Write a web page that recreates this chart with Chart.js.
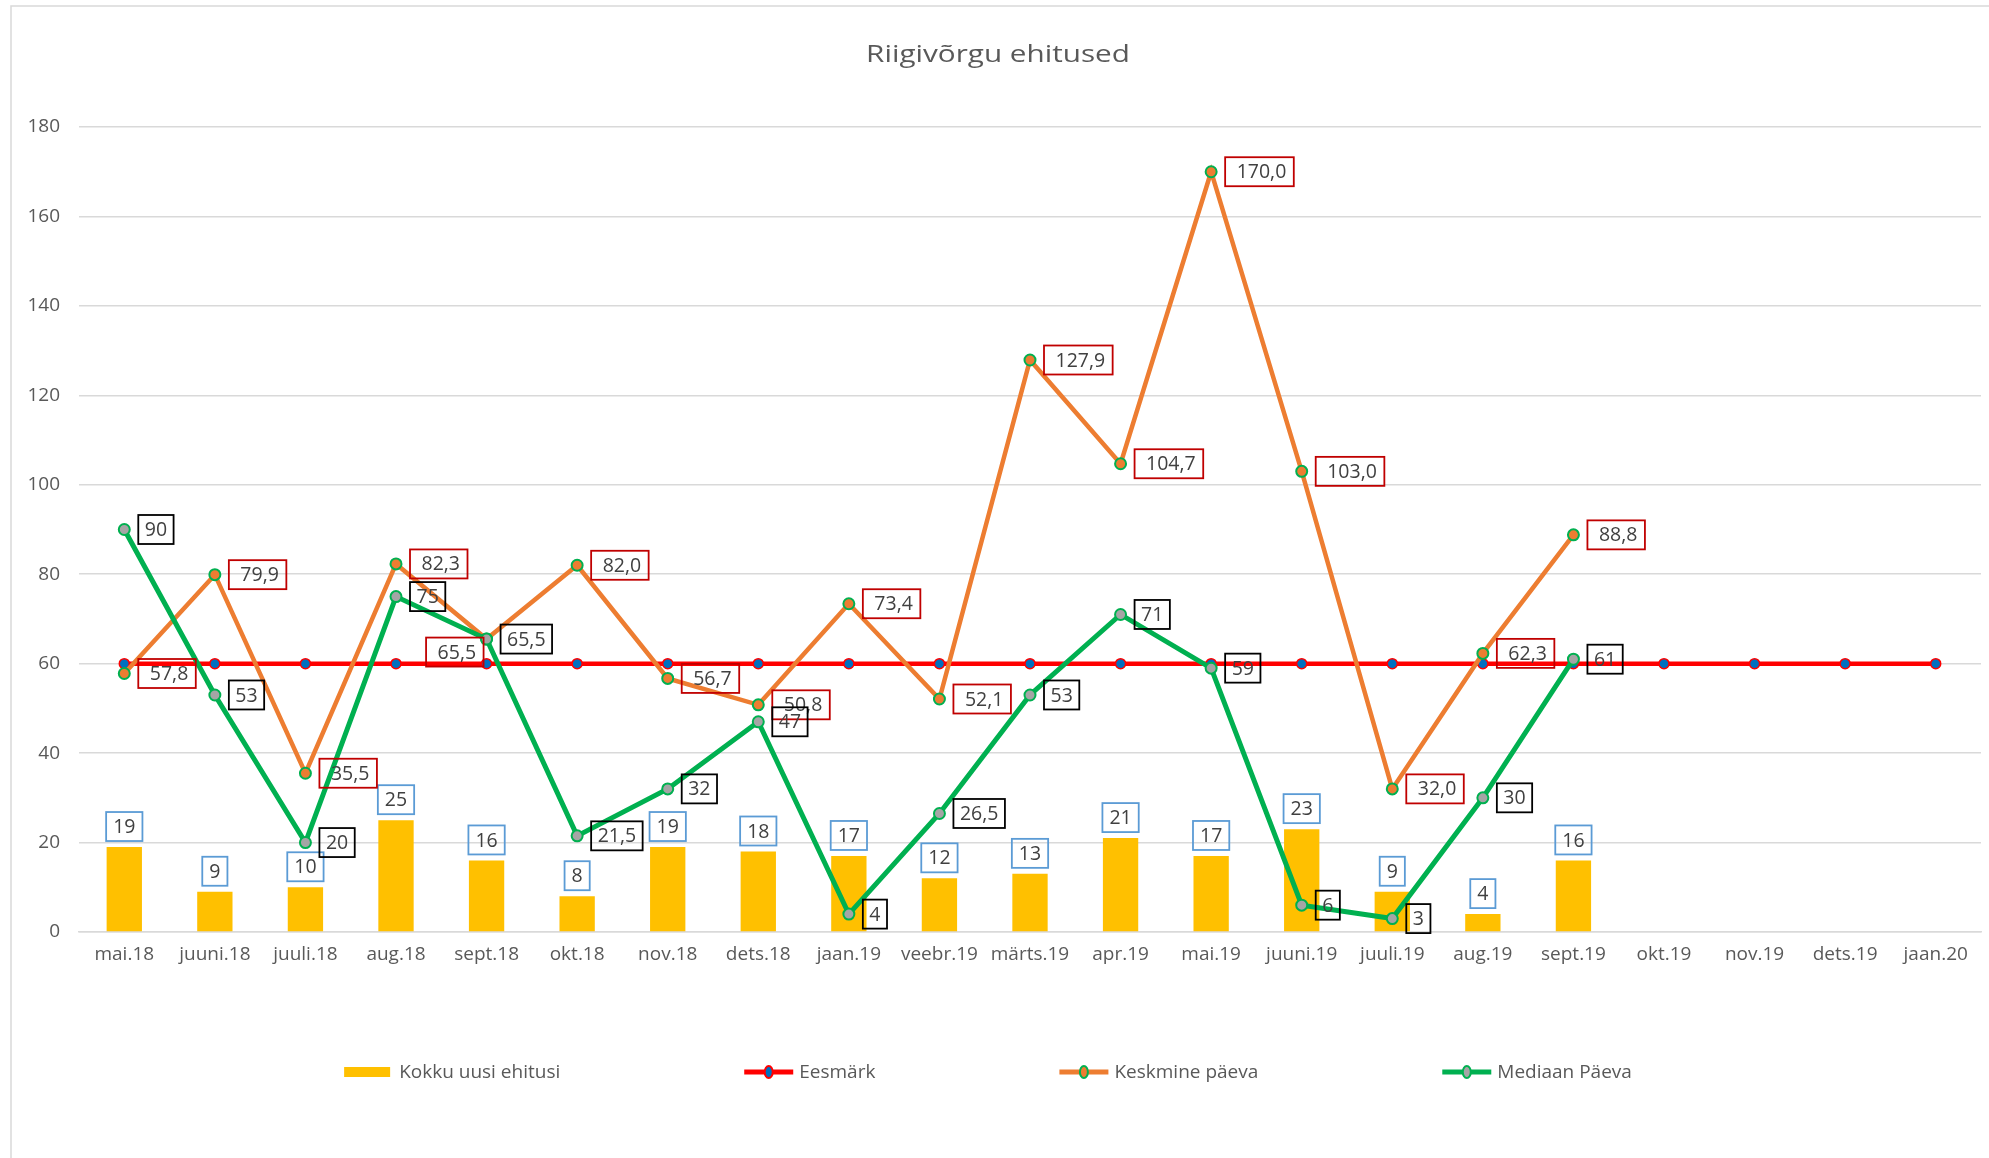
<!DOCTYPE html>
<html>
<head>
<meta charset="utf-8">
<script src="https://cdn.jsdelivr.net/npm/chart.js@4.4.1/dist/chart.umd.min.js"></script>
<style>
  html, body { margin: 0; padding: 0; background: #ffffff; }
  canvas { display: block; }
</style>
</head>
<body>
<canvas id="c" width="1989" height="1158"></canvas>
<script>
// ---- DATA ----
const chartTitle = 'Riigivõrgu ehitused';
const categories = ['mai.18','juuni.18','juuli.18','aug.18','sept.18','okt.18','nov.18','dets.18','jaan.19','veebr.19','märts.19','apr.19','mai.19','juuni.19','juuli.19','aug.19','sept.19','okt.19','nov.19','dets.19','jaan.20'];
const kokkuUusiEhitusi = [19, 9, 10, 25, 16, 8, 19, 18, 17, 12, 13, 21, 17, 23, 9, 4, 16, null, null, null, null];
const eesmark = [60, 60, 60, 60, 60, 60, 60, 60, 60, 60, 60, 60, 60, 60, 60, 60, 60, 60, 60, 60, 60];
const keskminePaeva = [57.8, 79.9, 35.5, 82.3, 65.5, 82.0, 56.7, 50.8, 73.4, 52.1, 127.9, 104.7, 170.0, 103.0, 32.0, 62.3, 88.8, null, null, null, null];
const mediaanPaeva = [90, 53, 20, 75, 65.5, 21.5, 32, 47, 4, 26.5, 53, 71, 59, 6, 3, 30, 61, null, null, null, null];
const seriesNames = ['Kokku uusi ehitusi', 'Eesmärk', 'Keskmine päeva', 'Mediaan Päeva'];
const yMin = 0, yMax = 180, yStep = 20;

// ---- STYLE ----
const FONT = '"Open Sans", Lato, sans-serif';
const TEXT = '#595959';
const LABEL_TEXT = '#404040';
const GRID = '#D9D9D9';

function fmtOneDec(v) { return v.toFixed(1).replace('.', ','); }
function fmtAuto(v) { return Number.isInteger(v) ? String(v) : String(v).replace('.', ','); }

// label configuration per dataset index
const labelCfg = {
  0: { mode: 'above', border: '#5B9BD5', fmt: fmtAuto, pad: 14 },
  2: { mode: 'right', border: '#C00000', fmt: fmtOneDec, pad: 19, overrides: { 4: { side: 'left', dy: 13 } } },
  3: { mode: 'right', border: '#000000', fmt: fmtAuto, pad: 13 }
};

const frameAndTitle = {
  id: 'frameAndTitle',
  beforeDraw(chart) {
    const ctx = chart.ctx;
    ctx.save();
    ctx.fillStyle = '#ffffff';
    ctx.fillRect(0, 0, chart.width, chart.height);
    ctx.strokeStyle = GRID;
    ctx.lineWidth = 1.5;
    ctx.strokeRect(11, 6, chart.width + 50, chart.height + 50);
    ctx.restore();
  },
  afterDraw(chart) {
    const ctx = chart.ctx;
    ctx.save();
    ctx.fillStyle = TEXT;
    ctx.font = '23px ' + FONT;
    ctx.textAlign = 'center';
    ctx.textBaseline = 'middle';
    ctx.translate(998, 55);
    ctx.scale(1.29, 1);
    ctx.fillText(chartTitle, 0, 0);
    ctx.restore();
  }
};

const boxedLabels = {
  id: 'boxedLabels',
  afterDatasetsDraw(chart) {
    const ctx = chart.ctx;
    ctx.save();
    ctx.font = '19.5px ' + FONT;
    ctx.textBaseline = 'middle';
    ctx.textAlign = 'center';
    [0, 2, 3].forEach(di => {
      const cfg = labelCfg[di];
      const ds = chart.data.datasets[di];
      const meta = chart.getDatasetMeta(di);
      meta.data.forEach((el, j) => {
        const v = ds.data[j];
        if (v === null || v === undefined) return;
        const txt = cfg.fmt(v);
        const tw = ctx.measureText(txt).width;
        const bw = tw + cfg.pad, bh = 29;
        let bx, by;
        if (cfg.mode === 'above') {
          bx = el.x - bw / 2;
          by = el.y - 6 - bh;
        } else {
          const ov = (cfg.overrides && cfg.overrides[j]) || {};
          const side = ov.side || 'right';
          const dy = ov.dy || 0;
          bx = side === 'right' ? el.x + 14 : el.x - 3 - bw;
          by = el.y - bh / 2 + dy;
        }
        ctx.strokeStyle = cfg.border;
        ctx.lineWidth = 1.8;
        ctx.strokeRect(bx, by, bw, bh);
        ctx.fillStyle = LABEL_TEXT;
        ctx.fillText(txt, bx + bw / 2 + (cfg.pad > 15 ? 2 : 0), by + bh / 2 + 1);
      });
    });
    ctx.restore();
  }
};

const customLegend = {
  id: 'customLegend',
  afterDraw(chart) {
    const ctx = chart.ctx;
    ctx.save();
    ctx.font = '19px ' + FONT;
    ctx.textBaseline = 'middle';
    ctx.textAlign = 'left';
    const markerW = 49, markerGap = 6, itemGap = 184, y = 1072;
    const widths = chart.data.datasets.map(ds => markerW + markerGap + ctx.measureText(ds.label).width);
    const total = widths.reduce((a, b) => a + b, 0) + itemGap * (widths.length - 1);
    let x = 988 - total / 2;
    chart.data.datasets.forEach((ds, i) => {
      if (ds.type === 'bar' || !ds.type) {
        ctx.fillStyle = ds.backgroundColor;
        ctx.fillRect(x, y - 5, markerW - 3, 10);
      } else {
        ctx.strokeStyle = ds.borderColor;
        ctx.lineWidth = 5;
        ctx.beginPath();
        ctx.moveTo(x, y);
        ctx.lineTo(x + markerW, y);
        ctx.stroke();
        ctx.beginPath();
        ctx.ellipse(x + markerW / 2, y, 4, 6, 0, 0, Math.PI * 2);
        ctx.fillStyle = ds.pointBackgroundColor;
        ctx.fill();
        ctx.lineWidth = 2;
        ctx.strokeStyle = ds.pointBorderColor;
        ctx.stroke();
      }
      ctx.fillStyle = TEXT;
      ctx.fillText(ds.label, x + markerW + markerGap, y + 1);
      x += widths[i] + itemGap;
    });
    ctx.restore();
  }
};

function build() {
  new Chart(document.getElementById('c'), {
    type: 'bar',
    data: {
      labels: categories,
      datasets: [
        {
          type: 'bar', label: seriesNames[0], data: kokkuUusiEhitusi,
          backgroundColor: '#FFC000', barPercentage: 0.39, categoryPercentage: 1.0, order: 4
        },
        {
          type: 'line', label: seriesNames[1], data: eesmark,
          borderColor: '#FF0000', borderWidth: 4.5, tension: 0,
          pointRadius: 5, pointBorderWidth: 1.5,
          pointBackgroundColor: '#0070C0', pointBorderColor: '#FF0000', order: 3
        },
        {
          type: 'line', label: seriesNames[2], data: keskminePaeva,
          borderColor: '#ED7D31', borderWidth: 4.5, tension: 0,
          pointRadius: 5.5, pointBorderWidth: 2,
          pointBackgroundColor: '#ED7D31', pointBorderColor: '#00B050', order: 2
        },
        {
          type: 'line', label: seriesNames[3], data: mediaanPaeva,
          borderColor: '#00B050', borderWidth: 5, tension: 0,
          pointRadius: 5.5, pointBorderWidth: 2,
          pointBackgroundColor: '#A5A5A5', pointBorderColor: '#00B050', order: 1
        }
      ]
    },
    options: {
      responsive: false,
      animation: false,
      events: [],
      layout: { padding: { left: 0, right: 8, top: 127, bottom: 186 } },
      plugins: {
        legend: { display: false },
        title: { display: false },
        tooltip: { enabled: false }
      },
      scales: {
        x: {
          grid: { display: false, drawTicks: false },
          border: { display: true, color: GRID, width: 1.5 },
          ticks: { color: TEXT, font: { family: FONT, size: 19 }, padding: 11, maxRotation: 0, autoSkip: false },
          afterFit(s) { s.height = 40; }
        },
        y: {
          min: yMin, max: yMax,
          ticks: { stepSize: yStep, color: TEXT, font: { family: FONT, size: 19 }, padding: 19 },
          grid: { color: GRID, lineWidth: 1.5, drawTicks: false },
          border: { display: false },
          afterFit(s) { s.width = 79; }
        }
      }
    },
    plugins: [frameAndTitle, boxedLabels, customLegend]
  });
}

if (document.fonts && document.fonts.load) {
  Promise.all([document.fonts.load('19px "Open Sans"'), document.fonts.load('23px "Open Sans"')]).then(build, build);
} else {
  build();
}
</script>
</body>
</html>
